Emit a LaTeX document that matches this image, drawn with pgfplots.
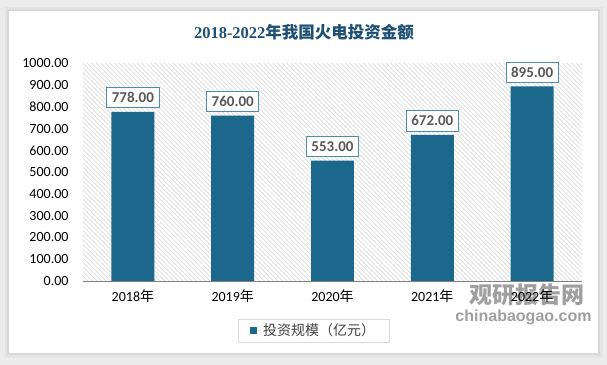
\documentclass[border=0pt]{standalone}
\usepackage{fontspec}
\usepackage{pgfplots}
\pgfplotsset{compat=1.18}
\usetikzlibrary{patterns.meta}
\setmainfont{Carlito}
\newfontfamily\cjk{Noto Sans CJK SC}
\newfontfamily\titleserif{Liberation Serif}
\newfontfamily\wmfont{Liberation Sans}
\definecolor{barc}{RGB}{27,104,140}
\definecolor{titlec}{RGB}{31,80,115}
\definecolor{lblborder}{RGB}{75,140,175}
\definecolor{lbltext}{RGB}{89,89,89}
\definecolor{bg}{RGB}{236,236,236}
\definecolor{sh1}{RGB}{228,228,228}
\definecolor{sh2}{RGB}{216,216,216}
\definecolor{hatchc}{RGB}{220,220,220}
\definecolor{legborder}{RGB}{217,217,217}
\definecolor{legtext}{RGB}{64,64,64}
\definecolor{wm}{RGB}{128,128,128}
\begin{document}
\begin{tikzpicture}
\useasboundingbox (-83bp,-84bp) rectangle (524bp,281bp);
\fill[bg] (-83bp,-84bp) rectangle (524bp,281bp);
\fill[sh1] (-78bp,-77bp) rectangle (520bp,274bp);
\fill[sh2] (-75.5bp,-74bp) rectangle (517bp,271.5bp);
\fill[white] (-74bp,-72bp) rectangle (515bp,270bp);
\node[text=titlec, font=\fontsize{16.5bp}{19bp}\selectfont] at (221bp,249bp)
  {{\titleserif\bfseries 2018-2022}{\cjk\bfseries 年我国火电投资金额}};
\node[text=wm, opacity=0.75, font=\fontsize{23bp}{26bp}\selectfont] at (443.5bp,-14bp) {\cjk\bfseries 观研报告网};
\node[text=wm, opacity=0.75, font=\fontsize{16bp}{18bp}\selectfont] at (440.5bp,-36bp) {\wmfont\bfseries chinabaogao.com};
\begin{axis}[
  at={(0,0)}, anchor=south west,
  scale only axis, width=499bp, height=217.5bp,
  xmin=-0.5, xmax=4.5, ymin=0, ymax=1000,
  ytick={0,100,...,1000},
  xtick={0,1,2,3,4},
  xticklabels={2018{\cjk 年},2019{\cjk 年},2020{\cjk 年},2021{\cjk 年},2022{\cjk 年}},
  axis line style={draw=none},
  major tick length=0pt,
  axis background/.style={fill=white, postaction={pattern={Lines[angle=-45,distance=3.2bp,line width=0.7bp]}, pattern color=hatchc}},
  ticklabel style={font=\fontsize{14bp}{16bp}\selectfont, text=black},
  yticklabel style={xshift=-11bp},
  xticklabel style={yshift=-5bp},
  /pgf/number format/fixed,
  /pgf/number format/fixed zerofill,
  /pgf/number format/precision=2,
  /pgf/number format/1000 sep={},
  /pgf/number format/assume math mode=true,
  ybar, bar width=0.43,
  nodes near coords,
  every node near coord/.append style={draw=lblborder, fill=white, text=lbltext, font=\bfseries\fontsize{15bp}{17bp}\selectfont, inner xsep=5bp, inner ysep=5bp, yshift=3.5bp, line width=0.8bp},
  legend style={at={(0.462,-0.2276)}, anchor=center, draw=legborder, font=\fontsize{14bp}{16bp}\selectfont, text=legtext, inner xsep=12bp, inner ysep=3bp},
  legend image code/.code={\fill[barc] (0bp,-3.5bp) rectangle (7bp,3.5bp); \path (0bp,0bp) -- (11bp,0bp);},
]
\addplot[fill=barc, draw=none] coordinates {(0,778) (1,760) (2,553) (3,672) (4,895)};
\addlegendentry{\cjk 投资规模（亿元）}
\draw[gray, line width=0.8bp] (axis cs:-0.5,0) -- (axis cs:4.5,0);
\end{axis}
\end{tikzpicture}
\end{document}
